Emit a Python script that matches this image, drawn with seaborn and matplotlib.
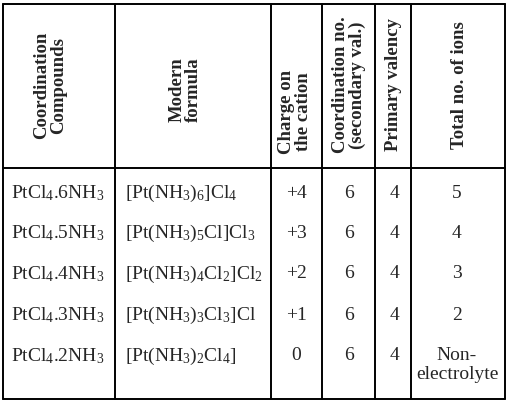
import matplotlib
matplotlib.use("Agg")
import matplotlib.pyplot as plt
import seaborn as sns

sns.set_theme(style="white")
plt.rcParams['font.family'] = ['Liberation Serif', 'DejaVu Serif']
plt.rcParams['mathtext.fontset'] = 'custom'
plt.rcParams['mathtext.rm'] = 'Liberation Serif'
plt.rcParams['mathtext.it'] = 'Liberation Serif'

headers = ["Coordination\nCompounds", "Modern\nformula", "Charge on\nthe cation",
           "Coordination no.\n(secondary val.)", "Primary valency", "Total no. of ions"]
compounds = [r"PtCl$_4$.6NH$_3$", r"PtCl$_4$.5NH$_3$", r"PtCl$_4$.4NH$_3$",
             r"PtCl$_4$.3NH$_3$", r"PtCl$_4$.2NH$_3$"]
formulas = [r"[Pt(NH$_3$)$_6$]Cl$_4$", r"[Pt(NH$_3$)$_5$Cl]Cl$_3$",
            r"[Pt(NH$_3$)$_4$Cl$_2$]Cl$_2$", r"[Pt(NH$_3$)$_3$Cl$_3$]Cl",
            r"[Pt(NH$_3$)$_2$Cl$_4$]"]
charges = ["+4", "+3", "+2", "+1", "0"]
coord_no = ["6", "6", "6", "6", "6"]
primary = ["4", "4", "4", "4", "4"]
ions = ["5", "4", "3", "2", "Non-\nelectrolyte"]

fig = plt.figure(figsize=(5.12, 4.09), dpi=100)
ax = fig.add_axes([0, 0, 1, 1])
ax.set_xlim(0, 512)
ax.set_ylim(409, 0)
ax.axis("off")

cols = [3, 115, 271, 322, 375, 411, 505]
top, hbot, bot = 4, 168, 399
lw = 1.4
for x in cols:
    ax.plot([x, x], [top, bot], color="black", lw=lw)
for y in [top, hbot, bot]:
    ax.plot([cols[0], cols[-1]], [y, y], color="black", lw=lw)

hdr_pos = [(50, 85), (185, 90), (295, 112), (349, 85), (393, 85), (460, 85)]
for h, (x, y) in zip(headers, hdr_pos):
    ax.text(x, y, h, rotation=90, ha="center", va="center", fontsize=13.5,
            fontweight="bold", linespacing=0.95)

fs = 14
row_y = [193, 233, 274, 315, 356]
for i, y in enumerate(row_y):
    ax.text(11, y, compounds[i], ha="left", va="center", fontsize=fs)
    ax.text(125, y, formulas[i], ha="left", va="center", fontsize=fs)
    ax.text(296, y, charges[i], ha="center", va="center", fontsize=fs)
    ax.text(349, y, coord_no[i], ha="center", va="center", fontsize=fs)
    ax.text(395, y, primary[i], ha="center", va="center", fontsize=fs)
    if "\n" in ions[i]:
        ax.text(457, y - 9, ions[i], ha="center", va="top", fontsize=fs, linespacing=1.15)
    else:
        ax.text(457, y, ions[i], ha="center", va="center", fontsize=fs)

fig.savefig("out.png", dpi=100)
